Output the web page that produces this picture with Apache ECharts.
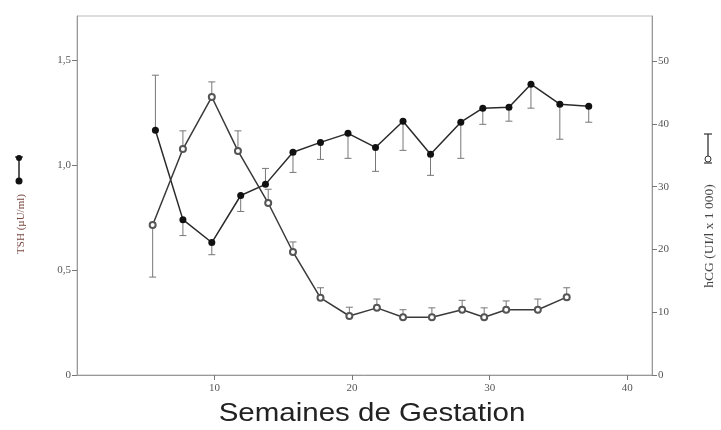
<!DOCTYPE html>
<html>
<head>
<meta charset="utf-8">
<script src="https://cdn.jsdelivr.net/npm/echarts@6/dist/echarts.min.js"></script>
<style>html,body{margin:0;padding:0;background:#fff;}#c{width:721px;height:430px;}</style>
</head>
<body>
<div id="c"></div>
<script>
// TSH (µU/ml), left axis
const tshWeeks = [5.7, 7.7, 9.8, 11.9, 13.7, 15.7, 17.7, 19.7, 21.7, 23.7, 25.7, 27.9, 29.5, 31.4, 33.0, 35.1, 37.2];
const tshValues = [1.166, 0.740, 0.631, 0.855, 0.908, 1.061, 1.108, 1.151, 1.084, 1.209, 1.051, 1.204, 1.271, 1.275, 1.385, 1.290, 1.280];
const tshErrEnd = [1.428, 0.664, 0.573, 0.779, 0.984, 0.965, 1.027, 1.032, 0.970, 1.070, 0.951, 1.032, 1.194, 1.209, 1.271, 1.123, 1.204];

// hCG (UI/l x 1000), right axis
const hcgWeeks = [5.5, 7.7, 9.8, 11.7, 13.9, 15.7, 17.7, 19.8, 21.8, 23.7, 25.8, 28.0, 29.6, 31.2, 33.5, 35.6];
const hcgValues = [23.9, 36.0, 44.3, 35.7, 27.4, 19.6, 12.3, 9.4, 10.7, 9.2, 9.2, 10.4, 9.2, 10.4, 10.4, 12.4];
const hcgErrEnd = [15.6, 38.9, 46.7, 38.9, 29.6, 21.2, 13.9, 10.8, 12.1, 10.4, 10.7, 11.9, 10.7, 11.8, 12.1, 13.9];

const xTicks = [0, 10, 20, 30, 40];
const leftTicks = [0, 0.5, 1.0, 1.5];
const rightTicks = [0, 10, 20, 30, 40, 50];

const chart = echarts.init(document.getElementById('c'), null, {renderer: 'canvas'});

function errRender(params, api) {
  const x = api.value(0), y0 = api.value(1), y1 = api.value(2);
  const p0 = api.coord([x, y0]);
  const p1 = api.coord([x, y1]);
  const st = {stroke: '#777', lineWidth: 1};
  return {
    type: 'group',
    children: [
      {type: 'line', shape: {x1: p0[0], y1: p0[1], x2: p1[0], y2: p1[1]}, style: st},
      {type: 'line', shape: {x1: p1[0] - 3.5, y1: p1[1], x2: p1[0] + 3.5, y2: p1[1]}, style: st}
    ]
  };
}

const labelStyle = {fontFamily: 'Liberation Serif', fontSize: 11, color: '#555'};
const axisLineStyle = {lineStyle: {color: '#999', width: 1}};

chart.setOption({
  animation: false,
  backgroundColor: '#fff',
  grid: {left: 77, right: 69, top: 16, bottom: 55, show: true, borderColor: '#bbb', borderWidth: 1},
  xAxis: {
    type: 'value', min: 0, max: 41.8, interval: 10,
    axisLine: axisLineStyle,
    axisTick: {show: true, length: 5, lineStyle: {color: '#777'}},
    splitLine: {show: false},
    axisLabel: Object.assign({}, labelStyle, {showMinLabel: false, showMaxLabel: false, margin: 8,
      formatter: v => xTicks.indexOf(v) >= 0 ? String(v) : ''})
  },
  yAxis: [
    {
      type: 'value', min: 0, max: 1.71, interval: 0.5, position: 'left',
      axisLine: {show: true, lineStyle: {color: '#999'}},
      axisTick: {show: true, length: 5, lineStyle: {color: '#777'}},
      splitLine: {show: false},
      axisLabel: Object.assign({}, labelStyle, {showMaxLabel: false, margin: 6,
        formatter: v => leftTicks.indexOf(v) >= 0 ? (v === 0 ? '0' : v.toFixed(1).replace('.', ',')) : ''})
    },
    {
      type: 'value', min: 0, max: 57.2, interval: 10, position: 'right',
      axisLine: {show: true, lineStyle: {color: '#999'}},
      axisTick: {show: true, length: 5, lineStyle: {color: '#777'}},
      splitLine: {show: false},
      axisLabel: Object.assign({}, labelStyle, {showMaxLabel: false, margin: 6,
        formatter: v => rightTicks.indexOf(v) >= 0 ? String(v) : ''})
    }
  ],
  series: [
    {
      type: 'custom', yAxisIndex: 0, z: 1, renderItem: errRender,
      data: tshWeeks.map((w, i) => [w, tshValues[i], tshErrEnd[i]])
    },
    {
      type: 'custom', yAxisIndex: 1, z: 1, renderItem: errRender,
      data: hcgWeeks.map((w, i) => [w, hcgValues[i], hcgErrEnd[i]])
    },
    {
      type: 'line', yAxisIndex: 0, z: 3,
      data: tshWeeks.map((w, i) => [w, tshValues[i]]),
      symbol: 'circle', symbolSize: 7,
      lineStyle: {color: '#2a2a2a', width: 1.5},
      itemStyle: {color: '#111'}
    },
    {
      type: 'line', yAxisIndex: 1, z: 3,
      data: hcgWeeks.map((w, i) => [w, hcgValues[i]]),
      symbol: 'emptyCircle', symbolSize: 6,
      lineStyle: {color: '#3a3a3a', width: 1.5},
      itemStyle: {color: '#555', borderWidth: 1}
    }
  ],
  graphic: [
    {type: 'text', x: 372, y: 414, scaleX: 1.18,
      style: {text: 'Semaines de Gestation', fontFamily: 'Liberation Sans', fontSize: 25, fill: '#222',
        textAlign: 'center', textVerticalAlign: 'middle'}},
    {type: 'text', x: 21, y: 224, rotation: Math.PI / 2,
      style: {text: 'TSH (µU/ml)', fontFamily: 'Liberation Serif', fontSize: 11, fill: '#7a4a42',
        textAlign: 'center', textVerticalAlign: 'middle'}},
    {type: 'text', x: 709, y: 236, rotation: Math.PI / 2,
      style: {text: 'hCG (UI/l x 1 000)', fontFamily: 'Liberation Serif', fontSize: 13.5, fill: '#444',
        textAlign: 'center', textVerticalAlign: 'middle'}},
    // legend glyph for TSH
    {type: 'line', shape: {x1: 19, y1: 157, x2: 19, y2: 182}, style: {stroke: '#222', lineWidth: 1.5}},
    {type: 'line', shape: {x1: 15, y1: 157, x2: 23, y2: 157}, style: {stroke: '#222', lineWidth: 1.2}},
    {type: 'circle', shape: {cx: 19, cy: 158, r: 3}, style: {fill: '#111'}},
    {type: 'circle', shape: {cx: 19, cy: 181, r: 3.5}, style: {fill: '#111'}},
    // legend glyph for hCG
    {type: 'line', shape: {x1: 708, y1: 134, x2: 708, y2: 159}, style: {stroke: '#333', lineWidth: 1.3}},
    {type: 'line', shape: {x1: 704, y1: 134, x2: 712, y2: 134}, style: {stroke: '#333', lineWidth: 1.2}},
    {type: 'line', shape: {x1: 704, y1: 163, x2: 712, y2: 163}, style: {stroke: '#333', lineWidth: 1.2}},
    {type: 'circle', shape: {cx: 708, cy: 159, r: 3}, style: {fill: '#fff', stroke: '#333', lineWidth: 1}}
  ]
});
</script>
</body>
</html>
